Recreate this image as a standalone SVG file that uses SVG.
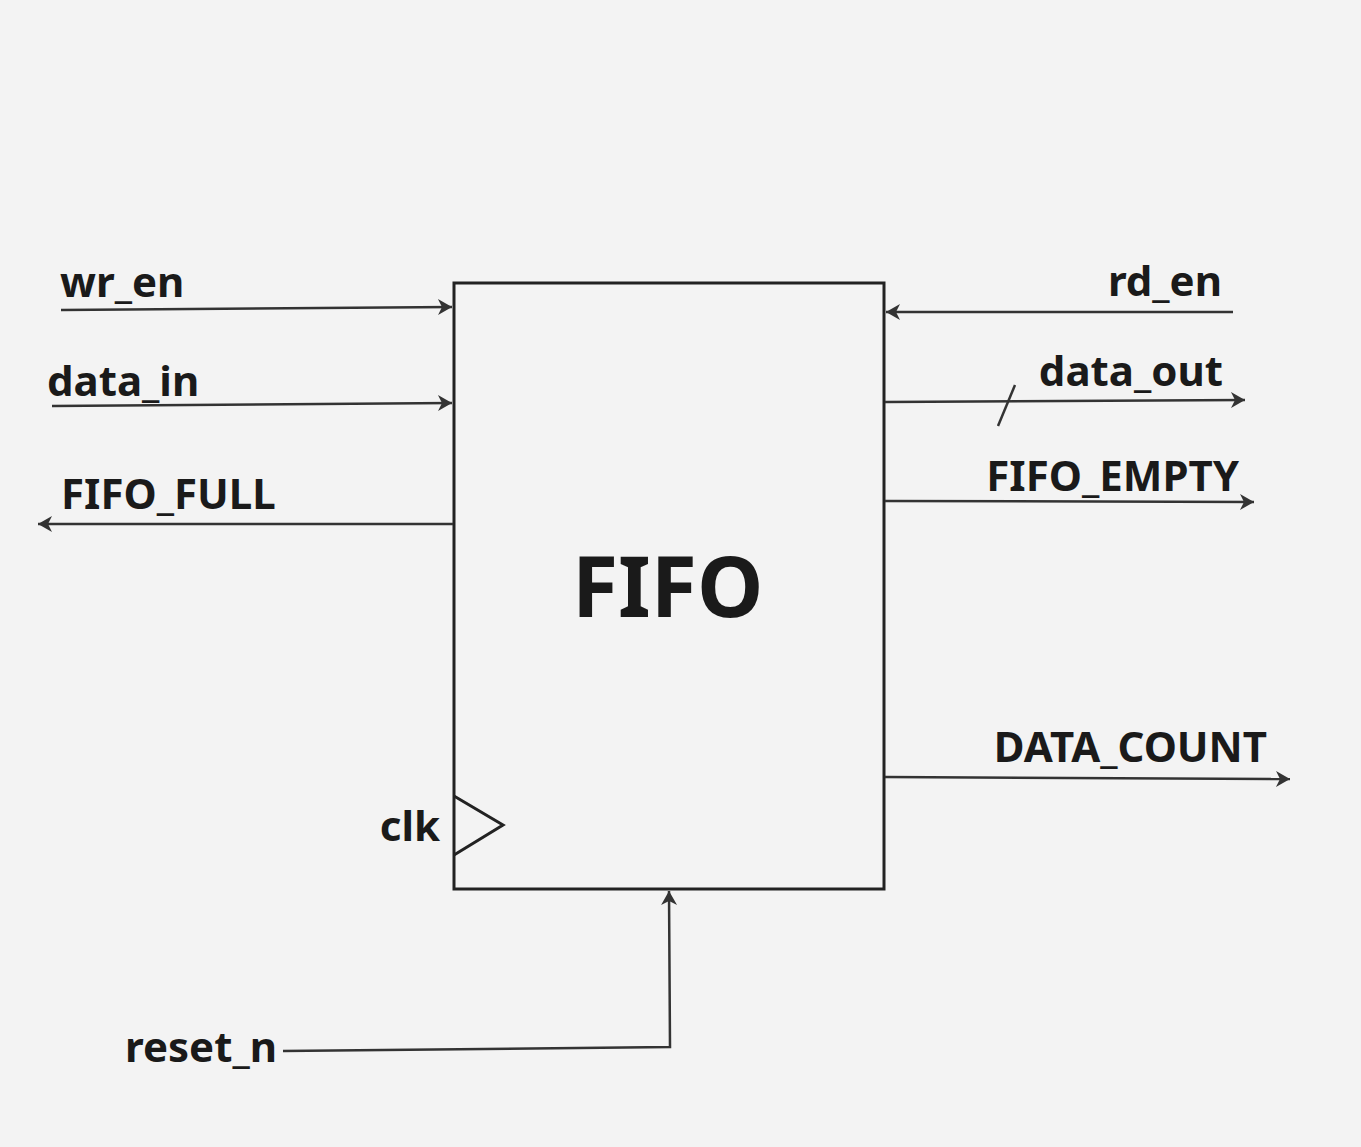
<svg xmlns="http://www.w3.org/2000/svg" width="1361" height="1147" viewBox="0 0 1361 1147">
<defs>
<marker id="arr" viewBox="0 0 16 18" refX="15" refY="9" markerWidth="16" markerHeight="18" markerUnits="userSpaceOnUse" orient="auto">
<path d="M1,1 L15,9 L1,17 L5,9 Z" fill="#333"/>
</marker>
<style>
.lbl{font-family:"Noto Sans","Open Sans","DejaVu Sans",sans-serif;font-weight:bold;font-size:42px;fill:#1a1a1a}
.big{font-family:"Noto Sans","Open Sans","DejaVu Sans",sans-serif;font-weight:bold;font-size:84px;fill:#1a1a1a}
.wire{fill:none;stroke:#333;stroke-width:2.5}
.box{fill:none;stroke:#222;stroke-width:3}
</style>
</defs>
<rect width="1361" height="1147" fill="#f3f3f3"/>
<g id="fifo">
<rect class="box" x="454" y="283" width="430" height="606"/>
<polyline class="box" points="454,796 503,825 454,855"/>
<text class="big" x="572" y="617">FIFO</text>
</g>
<g id="connectors">
<line class="wire" x1="61" y1="310" x2="452" y2="307" marker-end="url(#arr)"/>
<line class="wire" x1="52" y1="406" x2="452" y2="403" marker-end="url(#arr)"/>
<line class="wire" x1="453" y1="524" x2="38" y2="524" marker-end="url(#arr)"/>
<line class="wire" x1="1233" y1="312" x2="886" y2="312" marker-end="url(#arr)"/>
<line class="wire" x1="885" y1="402" x2="1245" y2="400" marker-end="url(#arr)"/>
<line class="wire" x1="998" y1="426" x2="1015" y2="385"/>
<line class="wire" x1="885" y1="501" x2="1254" y2="502" marker-end="url(#arr)"/>
<line class="wire" x1="885" y1="777" x2="1290" y2="779" marker-end="url(#arr)"/>
<polyline class="wire" points="283,1051 670,1047 669,891" marker-end="url(#arr)"/>
</g>
<g id="labels">
<text class="lbl" x="60" y="297">wr_en</text>
<text class="lbl" x="47" y="396">data_in</text>
<text class="lbl" x="61" y="509">FIFO_FULL</text>
<text class="lbl" x="1222" y="296" text-anchor="end">rd_en</text>
<text class="lbl" x="1223" y="386" text-anchor="end">data_out</text>
<text class="lbl" x="1239" y="491" text-anchor="end">FIFO_EMPTY</text>
<text class="lbl" x="1267" y="762" text-anchor="end">DATA_COUNT</text>
<text class="lbl" x="440" y="841" text-anchor="end">clk</text>
<text class="lbl" x="277" y="1062" text-anchor="end">reset_n</text>
</g>
</svg>
